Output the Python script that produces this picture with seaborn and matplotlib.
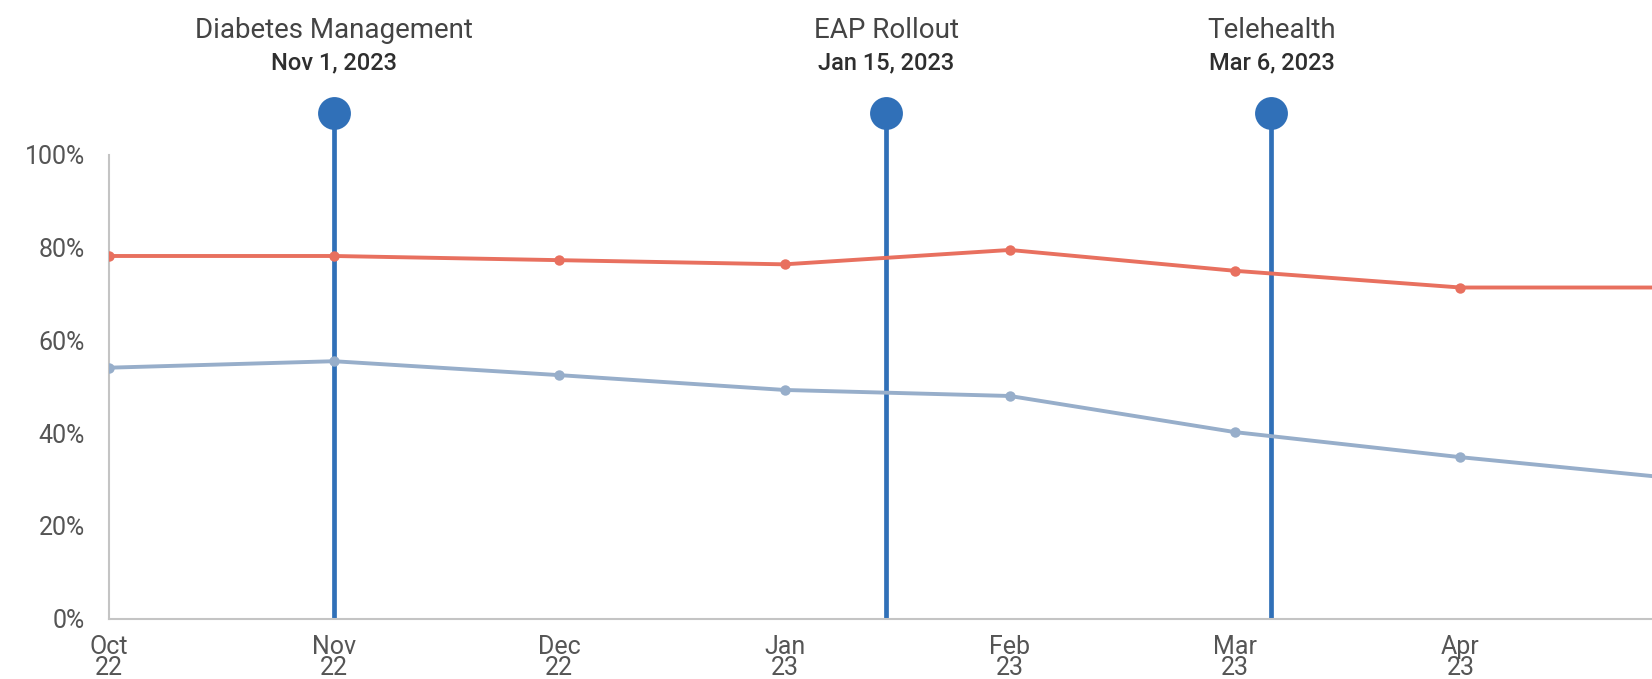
import matplotlib
matplotlib.use("Agg")
import matplotlib.pyplot as plt
import matplotlib.transforms as mtransforms
import pandas as pd
import seaborn as sns

# monthly values (percent)
months = ["Oct\n22", "Nov\n22", "Dec\n22", "Jan\n23", "Feb\n23", "Mar\n23", "Apr\n23", "May\n23"]
upper_rate = [78.2, 78.2, 77.3, 76.4, 79.5, 75.0, 71.4, 71.4]
lower_rate = [54.1, 55.5, 52.5, 49.3, 48.0, 40.2, 34.8, 30.0]

# program launches: month on the axis, day of month, days in that month
event_names = ["Diabetes Management", "EAP Rollout", "Telehealth"]
event_dates = ["Nov 1, 2023", "Jan 15, 2023", "Mar 6, 2023"]
event_month_idx = [1, 3, 5]
event_day = [1, 15, 6]
event_month_len = [30, 31, 31]

RED = "#E8705F"
GREY_BLUE = "#97AECA"
EVENT_BLUE = "#3070B8"
TEXT = "#555555"

sns.set_theme(style="white")
plt.rcParams["font.family"] = ["Roboto", "DejaVu Sans"]

df = pd.DataFrame({
    "pos": list(range(len(months))) * 2,
    "value": upper_rate + lower_rate,
    "series": ["upper"] * len(months) + ["lower"] * len(months),
})

fig = plt.figure(figsize=(16.52, 6.79), dpi=100)
ax = fig.add_axes([0.0657, 0.0891, 0.9343, 0.751])

sns.lineplot(data=df, x="pos", y="value", hue="series",
             palette={"upper": RED, "lower": GREY_BLUE},
             marker="o", markersize=7.5, markeredgewidth=0,
             linewidth=2.8, legend=False, ax=ax, zorder=3)

# event stems with a dot on top
event_pos = [m + (d - 1) / n for m, d, n in zip(event_month_idx, event_day, event_month_len)]
ax.vlines(event_pos, 0, 109, color=EVENT_BLUE, linewidth=3.4, zorder=2, clip_on=False)
ax.scatter(event_pos, [109] * len(event_pos), s=560, color=EVENT_BLUE,
           zorder=4, clip_on=False, linewidths=0)

trans = mtransforms.blended_transform_factory(ax.transData, fig.transFigure)
for x, name, date in zip(event_pos, event_names, event_dates):
    ax.text(x, 0.955, name, transform=trans, ha="center", va="center",
            fontsize=20, color="#444444")
    ax.text(x, 0.907, date, transform=trans, ha="center", va="center",
            fontsize=17, fontweight="medium", color="#2E2E2E")

ax.set_xticks(range(len(months)))
ax.set_xticklabels(months, linespacing=0.85)
ax.set_yticks([0, 20, 40, 60, 80, 100])
ax.set_yticklabels([f"{v}%" for v in [0, 20, 40, 60, 80, 100]])
ax.set_xlim(0, 6.85)
ax.set_ylim(0, 110)
ax.tick_params(axis="both", length=0, labelsize=18, labelcolor=TEXT)
ax.tick_params(axis="x", pad=12)
ax.tick_params(axis="y", pad=17)
ax.set_xlabel("")
ax.set_ylabel("")

for side in ["top", "right"]:
    ax.spines[side].set_visible(False)
for side in ["left", "bottom"]:
    ax.spines[side].set_color("#C4C4C4")
    ax.spines[side].set_linewidth(1.5)
ax.spines["left"].set_bounds(0, 100)

fig.savefig("out.png", dpi=100, facecolor="white")
